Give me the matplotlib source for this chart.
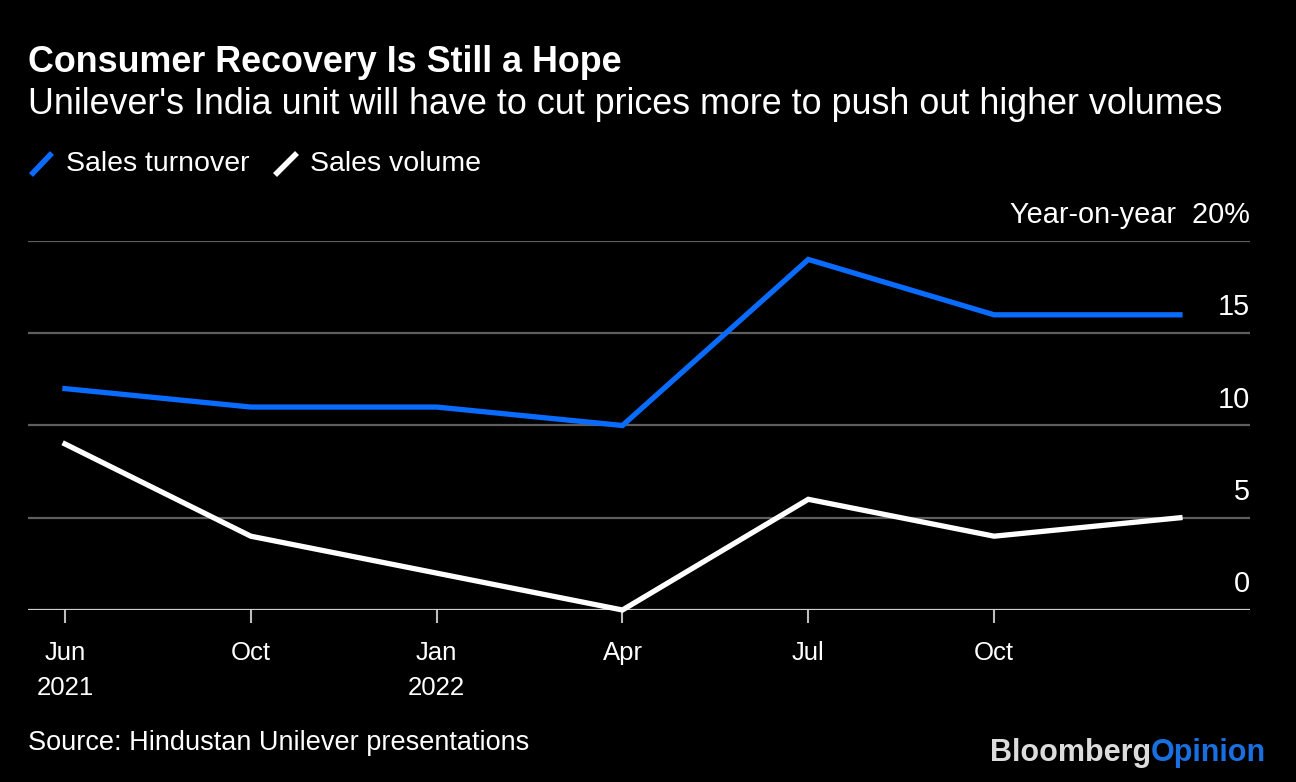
import matplotlib
matplotlib.use("Agg")
import matplotlib.pyplot as plt
from matplotlib.lines import Line2D

plt.rcParams['font.family'] = ['Liberation Sans', 'DejaVu Sans']

quarters = ["Jun 2021", "Oct", "Jan 2022", "Apr", "Jul", "Oct", "Dec"]
tick_labels = ["Jun\n2021", "Oct", "Jan\n2022", "Apr", "Jul", "Oct"]
sales_turnover = [12, 11, 11, 10, 19, 16, 16]
sales_volume = [9, 4, 2, 0, 6, 4, 5]
y_ticks = [0, 5, 10, 15, 20]
y_labels = ["0", "5", "10", "15", "Year-on-year  20%"]

BLUE = "#0a6cff"
BG = "black"

W, H = 1296, 782
fig = plt.figure(figsize=(W / 100, H / 100), dpi=100, facecolor=BG)

def fx(px):
    return px / W

def fy(py):
    return 1 - py / H

ax = fig.add_axes([fx(28), fy(610), fx(1250) - fx(28), fy(241) - fy(610)], facecolor=BG)

x = list(range(len(quarters)))
ax.plot(x, sales_turnover, color=BLUE, lw=3.8, solid_joinstyle='miter', clip_on=False, zorder=4)
ax.plot(x, sales_volume, color="white", lw=3.8, solid_joinstyle='miter', clip_on=False, zorder=4)

ax.set_xlim(-0.199, 6.377)
ax.set_ylim(0, 20)

for v in y_ticks:
    if v == 0:
        ax.axhline(v, color="#cfcfcf", lw=1.6, zorder=2)
    else:
        ax.axhline(v, color="#5e5e5e", lw=1.6, zorder=1)

for v, lab in zip(y_ticks, y_labels):
    ax.annotate(lab, xy=(1, v), xycoords=('axes fraction', 'data'),
                xytext=(0, 8.5), textcoords='offset points',
                ha='right', va='bottom', color='white', fontsize=20.8)

for s in ax.spines.values():
    s.set_visible(False)
ax.set_yticks([])
ax.set_xticks(range(len(tick_labels)))
ax.set_xticklabels(tick_labels, color='white', fontsize=18.5, linespacing=1.6)
ax.tick_params(axis='x', colors='#bdbdbd', length=9, width=1.5, pad=13, labelcolor='white')

fig.text(fx(28), fy(62), "Consumer Recovery Is Still a Hope", color='white',
         fontsize=25.8, fontweight='bold', ha='left', va='center')
fig.text(fx(28), fy(105), "Unilever's India unit will have to cut prices more to push out higher volumes",
         color='white', fontsize=25.8, ha='left', va='center')

fig.add_artist(Line2D([fx(31), fx(52)], [fy(175), fy(153)], transform=fig.transFigure,
                      color=BLUE, lw=4, solid_capstyle='butt'))
fig.text(fx(66), fy(164), "Sales turnover", color='white', fontsize=20.5, ha='left', va='center')
fig.add_artist(Line2D([fx(275), fx(297)], [fy(175), fy(153)], transform=fig.transFigure,
                      color='white', lw=4, solid_capstyle='butt'))
fig.text(fx(310), fy(164), "Sales volume", color='white', fontsize=20.5, ha='left', va='center')

fig.text(fx(28), fy(743), "Source: Hindustan Unilever presentations", color='white',
         fontsize=19.5, ha='left', va='center')

t1 = fig.text(fx(990), fy(753), "Bloomberg", color='#dcdcdc', fontsize=22,
              fontweight='bold', ha='left', va='center')
fig.canvas.draw()
bb = t1.get_window_extent()
fig.text(bb.x1 / W, fy(753), "Opinion", color='#1a6fe0', fontsize=22,
         fontweight='bold', ha='left', va='center')

fig.savefig("out.png", dpi=100, facecolor=BG)
